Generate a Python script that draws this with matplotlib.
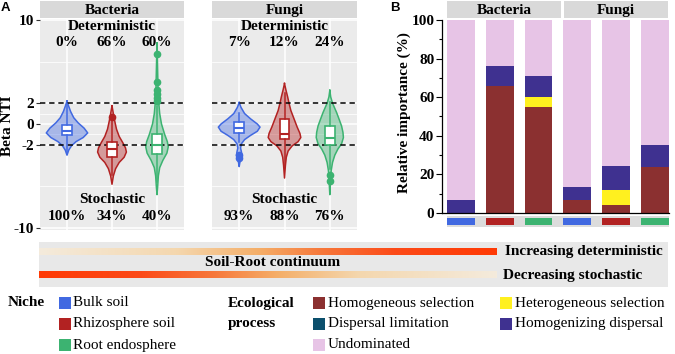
import numpy as np
import matplotlib
matplotlib.use('Agg')
import matplotlib.pyplot as plt
from matplotlib.patches import Rectangle
from matplotlib.colors import LinearSegmentedColormap

# ---------------- data ----------------
kingdoms = ['Bacteria', 'Fungi']
niches = ['Bulk soil', 'Rhizosphere soil', 'Root endosphere']
niche_colors = ['#4169E1', '#B22222', '#3CB371']

det_pct = [[0, 66, 60], [7, 12, 24]]
sto_pct = [[100, 34, 40], [93, 88, 76]]

# violin outlines: beta NTI level and half width (x units)
bact_bulk_y = [2.2, 1.8, 1.2, 0.6, 0.1, -0.4, -0.86, -1.3, -1.7, -2.1, -2.5, -3.0]
bact_bulk_w = [0.0, 0.03, 0.08, 0.15, 0.25, 0.38, 0.46, 0.36, 0.2, 0.1, 0.04, 0.0]
bact_rhizo_y = [1.75, 1.0, 0.3, -0.5, -1.2, -1.8, -2.3, -2.7, -3.2, -3.7, -4.3, -5.0, -5.8]
bact_rhizo_w = [0.0, 0.03, 0.06, 0.10, 0.16, 0.24, 0.30, 0.32, 0.27, 0.16, 0.08, 0.03, 0.0]
bact_endo_y = [7.8, 5.0, 3.0, 2.0, 1.0, 0.0, -1.0, -1.7, -2.2, -2.8, -3.5, -4.2, -5.0, -6.0, -6.8]
bact_endo_w = [0.0, 0.015, 0.025, 0.04, 0.06, 0.10, 0.17, 0.23, 0.25, 0.22, 0.13, 0.06, 0.03, 0.015, 0.0]
fung_bulk_y = [2.07, 1.6, 1.0, 0.5, 0.0, -0.3, -0.7, -1.1, -1.5, -1.9, -2.3, -2.7, -3.0, -3.3, -3.7, -4.1]
fung_bulk_w = [0.0, 0.04, 0.12, 0.25, 0.40, 0.46, 0.40, 0.25, 0.12, 0.05, 0.03, 0.05, 0.06, 0.04, 0.015, 0.0]
fung_rhizo_y = [3.9, 3.3, 2.6, 2.0, 1.3, 0.5, -0.3, -0.9, -1.3, -1.7, -2.1, -2.6, -3.2, -4.0, -5.2]
fung_rhizo_w = [0.0, 0.03, 0.07, 0.10, 0.14, 0.21, 0.28, 0.34, 0.36, 0.30, 0.17, 0.08, 0.04, 0.02, 0.0]
fung_endo_y = [3.24, 2.6, 2.0, 1.1, 0.4, -0.2, -0.8, -1.3, -1.9, -2.4, -3.0, -3.7, -4.5, -5.5, -6.8]
fung_endo_w = [0.0, 0.02, 0.06, 0.15, 0.21, 0.26, 0.29, 0.30, 0.26, 0.18, 0.11, 0.06, 0.03, 0.015, 0.0]

violin_y = [[bact_bulk_y, bact_rhizo_y, bact_endo_y], [fung_bulk_y, fung_rhizo_y, fung_endo_y]]
violin_w = [[bact_bulk_w, bact_rhizo_w, bact_endo_w], [fung_bulk_w, fung_rhizo_w, fung_endo_w]]

# box statistics
box_q1 = [[-1.1, -3.17, -2.9], [-0.9, -1.43, -2.0]]
box_med = [[-0.7, -2.38, -2.06], [-0.41, -0.95, -1.36]]
box_q3 = [[-0.1, -1.74, -1.0], [0.16, 0.48, -0.22]]
box_lo = [[-2.9, -4.9, -5.6], [-1.75, -4.0, -4.3]]
box_hi = [[1.9, 0.4, 1.7], [1.1, 3.0, 2.07]]
box_fliers = [[[], [0.64], [6.7, 4.0, 3.3, 2.9, 2.5, 2.2]],
              [[-2.95, -3.3], [], [-4.86, -5.46]]]

# panel B: relative importance (%), order: Bacteria bulk/rhizo/endo, Fungi bulk/rhizo/endo
bar_kingdom = ['Bacteria'] * 3 + ['Fungi'] * 3
bar_niche = [0, 1, 2, 0, 1, 2]
homog_sel = [0, 66, 55, 6.5, 4, 24]
hetero_sel = [0, 0, 5, 0, 8, 0]
disp_lim = [0, 0, 0, 0, 0, 0]
homog_disp = [6.5, 10, 11, 7, 12.5, 11]
undominated = [93.5, 24, 29, 86.5, 75.5, 65]

process_names = ['Homogeneous selection', 'Heterogeneous selection', 'Dispersal limitation',
                 'Homogenizing dispersal', 'Undominated']
process_colors = ['#8B3030', '#FFF01F', '#0B4F6C', '#3F3190', '#E7C4E6']
process_values = [homog_sel, hetero_sel, disp_lim, homog_disp, undominated]

# ---------------- figure ----------------
W, H = 675, 354
fig = plt.figure(figsize=(6.75, 3.54), dpi=100)
plt.rcParams['font.family'] = ['Liberation Serif', 'DejaVu Serif']
FS = 11


def px_axes(x0, y0, x1, y1, **kw):
    return fig.add_axes([x0 / W, 1 - y1 / H, (x1 - x0) / W, (y1 - y0) / H], **kw)


# ---- Panel A ----
for k, (x0, x1) in enumerate([(40, 184), (212, 357)]):
    ax = px_axes(x0, 18.5, x1, 230)
    ax.set_facecolor('#EBEBEB')
    ax.set_xlim(0.4, 3.6)
    ax.set_ylim(-10.2, 10.15)
    for yv in [-10, -2, 0, 2, 10]:
        ax.axhline(yv, color='white', lw=1.1, zorder=0)
    for yv in [-6, -1, 1, 6]:
        ax.axhline(yv, color='white', lw=0.55, zorder=0)
    for xv in [1, 2, 3]:
        ax.axvline(xv, color='white', lw=1.1, zorder=0)
    for yv in [2, -2]:
        ax.axhline(yv, color='black', ls=(0, (3.5, 2.5)), lw=1.1, zorder=3)
    for s in ax.spines.values():
        s.set_visible(False)
    for j in range(3):
        c = niche_colors[j]
        pos = j + 1
        ys = np.asarray(violin_y[k][j])
        hw = np.asarray(violin_w[k][j])
        ax.fill_betweenx(ys, pos - hw, pos + hw, facecolor=c, alpha=0.4,
                         edgecolor='none', zorder=2)
        ax.plot(np.r_[pos - hw, (pos + hw)[::-1]], np.r_[ys, ys[::-1]],
                color=c, lw=1.1, zorder=2.1)
        st = [dict(med=box_med[k][j], q1=box_q1[k][j], q3=box_q3[k][j],
                   whislo=box_lo[k][j], whishi=box_hi[k][j], fliers=box_fliers[k][j])]
        ax.bxp(st, positions=[pos], widths=0.22, patch_artist=True, showcaps=False,
               boxprops=dict(facecolor='white', edgecolor=c, lw=1.2),
               medianprops=dict(color=c, lw=1.5),
               whiskerprops=dict(color=c, lw=1.1),
               flierprops=dict(marker='o', markersize=4.5, markerfacecolor=c,
                               markeredgecolor=c),
               manage_ticks=False, zorder=4)
        ax.text(pos, 7.84, f'{det_pct[k][j]}%', ha='center', va='center',
                fontsize=FS, fontweight='bold', zorder=5)
        ax.text(pos, -8.9, f'{sto_pct[k][j]}%', ha='center', va='center',
                fontsize=FS, fontweight='bold', zorder=5)
    ax.text(2, 9.36, 'Deterministic', ha='center', va='center', fontsize=FS,
            fontweight='bold', zorder=5)
    ax.text(2, -7.3, 'Stochastic', ha='center', va='center', fontsize=FS,
            fontweight='bold', zorder=5)
    ax.set_xticks([])
    if k == 0:
        ax.set_yticks([-10, -2, 0, 2, 10])
        ax.set_yticklabels(['-10', '-2', '0', '2', '10'], fontsize=FS, fontweight='bold')
        ax.tick_params(axis='y', length=3, width=0.8, color='#333333', pad=1.5)
    else:
        ax.set_yticks([])
    sax = px_axes(x0, 1, x1, 18)
    sax.set_facecolor('#D9D9D9')
    sax.set_xticks([]); sax.set_yticks([])
    for s in sax.spines.values():
        s.set_visible(False)
    sax.text(0.5, 0.45, kingdoms[k], transform=sax.transAxes, ha='center', va='center',
             fontsize=FS, fontweight='bold')

# ---- Panel B ----
xpos = np.arange(6)
axb = px_axes(442, 20, 669, 213)
axb.set_xlim(-0.49, 5.37)
axb.set_ylim(0, 100)
bottom = np.zeros(6)
for vals, col in zip(process_values, process_colors):
    v = np.asarray(vals, dtype=float)
    axb.bar(xpos, v, bottom=bottom, width=0.72, color=col, edgecolor='none', zorder=2)
    bottom += v
axb.spines['top'].set_visible(False)
axb.spines['right'].set_visible(False)
axb.spines['left'].set_linewidth(0.9)
axb.spines['bottom'].set_linewidth(0.9)
axb.set_xticks([])
axb.set_yticks(np.arange(0, 101, 20))
axb.set_yticks(np.arange(0, 101, 10), minor=True)
axb.set_yticklabels([str(v) for v in range(0, 101, 20)], fontsize=FS, fontweight='bold')
axb.tick_params(axis='y', which='major', length=4, width=0.8, pad=1.5)
axb.tick_params(axis='y', which='minor', length=2.5, width=0.8)

for k, (x0, x1) in enumerate([(447, 561), (564, 668)]):
    sax = px_axes(x0, 1, x1, 18)
    sax.set_facecolor('#D9D9D9')
    sax.set_xticks([]); sax.set_yticks([])
    for s in sax.spines.values():
        s.set_visible(False)
    sax.text(0.5, 0.45, kingdoms[k], transform=sax.transAxes, ha='center', va='center',
             fontsize=FS, fontweight='bold')

# niche colour strip under panel B
axn = px_axes(442, 216, 669, 227)
axn.set_xlim(-0.49, 5.37)
axn.set_ylim(0, 11)
axn.axis('off')
axn.add_patch(Rectangle((-0.36, 0), 5.73, 11, color='#DCDCDC', lw=0, zorder=0))
axn.bar(xpos, 7, bottom=2, width=0.72, color=[niche_colors[i] for i in bar_niche],
        edgecolor='none', zorder=2)

# ---- overlay (pixel coordinates) ----
ov = fig.add_axes([0, 0, 1, 1], facecolor='none')
ov.set_xlim(0, W)
ov.set_ylim(H, 0)
ov.set_autoscale_on(False)
ov.axis('off')

ov.text(1, 8, 'A', fontsize=9.5, fontweight='bold', family=['Liberation Sans', 'DejaVu Sans'],
        ha='left', va='center')
ov.text(390, 8, 'B', fontsize=9.5, fontweight='bold', family=['Liberation Sans', 'DejaVu Sans'],
        ha='left', va='center')
ov.text(8, 126, 'Beta NTI', rotation=90, ha='center', va='center', fontsize=FS,
        fontweight='bold')
ov.text(404, 113, 'Relative importance (%)', rotation=90, ha='center', va='center',
        fontsize=FS, fontweight='bold')

# gradient band
ov.add_patch(Rectangle((39, 242), 629, 45, color='#E8E8E8', lw=0, zorder=0))
cmap = LinearSegmentedColormap.from_list('grad', [
    (0.0, '#F4EBDC'), (0.3, '#F4D7AE'), (0.48, '#F5AE68'), (0.62, '#F7773A'),
    (0.78, '#FC4A18'), (1.0, '#FF3A05')])
grad = np.linspace(0, 1, 256)[None, :]
ov.imshow(grad, cmap=cmap, extent=[39, 497, 255, 248], aspect='auto', zorder=1,
          interpolation='bilinear')
ov.imshow(grad[:, ::-1], cmap=cmap, extent=[39, 497, 278, 271], aspect='auto', zorder=1,
          interpolation='bilinear')
ov.set_xlim(0, W)
ov.set_ylim(H, 0)
ov.text(505, 251, 'Increasing deterministic', ha='left', va='center', fontsize=FS,
        fontweight='bold')
ov.text(273, 263, 'Soil-Root continuum', ha='center', va='center', fontsize=FS,
        fontweight='bold')
ov.text(503, 276, 'Decreasing stochastic', ha='left', va='center', fontsize=FS,
        fontweight='bold')

# legends
rows = [303, 324, 345]
ov.text(8, rows[0], 'Niche', ha='left', va='center', fontsize=FS, fontweight='bold')
for i, (nm, c) in enumerate(zip(niches, niche_colors)):
    ov.add_patch(Rectangle((59, rows[i] - 6), 12, 12, color=c, lw=0))
    ov.text(73, rows[i], nm, ha='left', va='center', fontsize=FS)
ov.text(228, rows[0], 'Ecological', ha='left', va='center', fontsize=FS, fontweight='bold')
ov.text(228, rows[1], 'process', ha='left', va='center', fontsize=FS, fontweight='bold')
leg_slots = {0: (313, rows[0]), 2: (313, rows[1]), 4: (313, rows[2]),
             1: (500, rows[0]), 3: (500, rows[1])}
for i, (nm, c) in enumerate(zip(process_names, process_colors)):
    x, y = leg_slots[i]
    ov.add_patch(Rectangle((x, y - 6), 12, 12, color=c, lw=0))
    ov.text(x + 15, y, nm, ha='left', va='center', fontsize=FS)

fig.savefig('out.png', dpi=100)
